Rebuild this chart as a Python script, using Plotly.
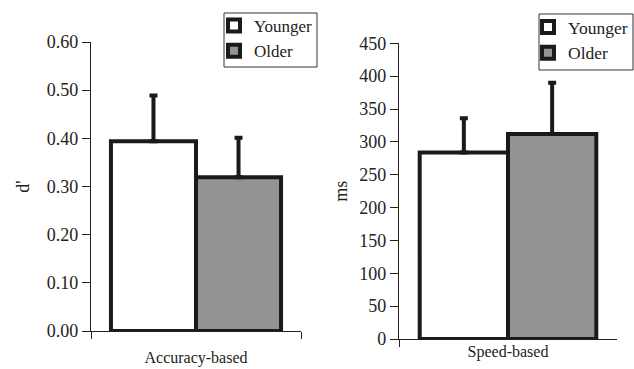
import plotly.graph_objects as go

groups = ["Younger", "Older"]
acc_cat = ["Accuracy-based"]
acc_mean = [0.394, 0.319]
acc_err = [0.095, 0.082]
spd_cat = ["Speed-based"]
spd_mean = [284, 312]
spd_err = [52, 78]
acc_ticks = [0.0, 0.1, 0.2, 0.3, 0.4, 0.5, 0.6]
acc_ticklabels = ["0.00", "0.10", "0.20", "0.30", "0.40", "0.50", "0.60"]
spd_ticks = [0, 50, 100, 150, 200, 250, 300, 350, 400, 450]

fills = ["#ffffff", "#939393"]
FONT = "Liberation Serif"
W, H = 634, 369

fig = go.Figure()
for i, g in enumerate(groups):
    fig.add_trace(go.Bar(
        x=acc_cat, y=[acc_mean[i]], name=g, xaxis="x", yaxis="y",
        marker=dict(color=fills[i], line=dict(color="#1a1a1a", width=4)),
        error_y=dict(type="data", array=[acc_err[i]], arrayminus=[0], symmetric=False,
                     color="#1a1a1a", thickness=4, width=4),
        legend="legend",
    ))
for i, g in enumerate(groups):
    fig.add_trace(go.Bar(
        x=spd_cat, y=[spd_mean[i]], name=g, xaxis="x2", yaxis="y2",
        marker=dict(color=fills[i], line=dict(color="#1a1a1a", width=4)),
        error_y=dict(type="data", array=[spd_err[i]], arrayminus=[0], symmetric=False,
                     color="#1a1a1a", thickness=4, width=4),
        legend="legend2",
    ))

axis_common = dict(showline=True, linecolor="#222", linewidth=1.2, showgrid=False,
                   zeroline=False, ticks="outside", tickcolor="#222", tickwidth=1.2,
                   tickfont=dict(family=FONT, size=18, color="#222"), automargin=False)

xcommon = dict(type="category", range=[-0.5, 0.5], automargin=False,
               showline=True, linecolor="#222", linewidth=1.2, showgrid=False,
               ticks="outside", tickson="boundaries", ticklen=7, tickcolor="#222", tickwidth=1.2,
               tickfont=dict(family=FONT, size=16, color="#222"))

leg_common = dict(xanchor="left", yanchor="top", borderwidth=0, bgcolor="rgba(0,0,0,0)",
                  itemwidth=30, tracegroupgap=0, traceorder="normal")

fig.update_layout(
    width=W, height=H,
    margin=dict(l=0, r=0, t=0, b=0, autoexpand=False),
    paper_bgcolor="white", plot_bgcolor="white",
    barmode="group", bargap=0.19, bargroupgap=0,
    font=dict(family=FONT, color="#222"),
    xaxis=dict(domain=[91/W, 301/W], anchor="y", ticklabelstandoff=12, **xcommon),
    yaxis=dict(domain=[(H-331)/H, (H-42)/H], anchor="x", range=[0, 0.6],
               tickvals=acc_ticks, ticktext=acc_ticklabels, ticklen=8,
               title=dict(text="d'", font=dict(family=FONT, size=18, color="#222"), standoff=12),
               **axis_common),
    xaxis2=dict(domain=[399/W, 617/W], anchor="y2", ticklabelstandoff=-2, **xcommon),
    yaxis2=dict(domain=[(H-339)/H, (H-43.3)/H], anchor="x2", range=[0, 450],
                tickvals=spd_ticks, ticklen=8,
                title=dict(text="ms", font=dict(family=FONT, size=18, color="#222"), standoff=6),
                **axis_common),
    legend=dict(x=214/W, y=1-8/H, font=dict(family=FONT, size=17, color="#222"), **leg_common),
    legend2=dict(x=528/W, y=1-9/H, font=dict(family=FONT, size=17.5, color="#222"), **leg_common),
    shapes=[
        dict(type="rect", xref="paper", yref="paper", x0=224/W, x1=317/W, y0=1-67/H, y1=1-13/H,
             line=dict(color="#333", width=1)),
        dict(type="rect", xref="paper", yref="paper", x0=539/W, x1=633/W, y0=1-70/H, y1=1-14/H,
             line=dict(color="#333", width=1)),
    ],
)

fig.write_html("out.html", config={"displayModeBar": False},
               post_script="document.body.style.margin='0px';")
